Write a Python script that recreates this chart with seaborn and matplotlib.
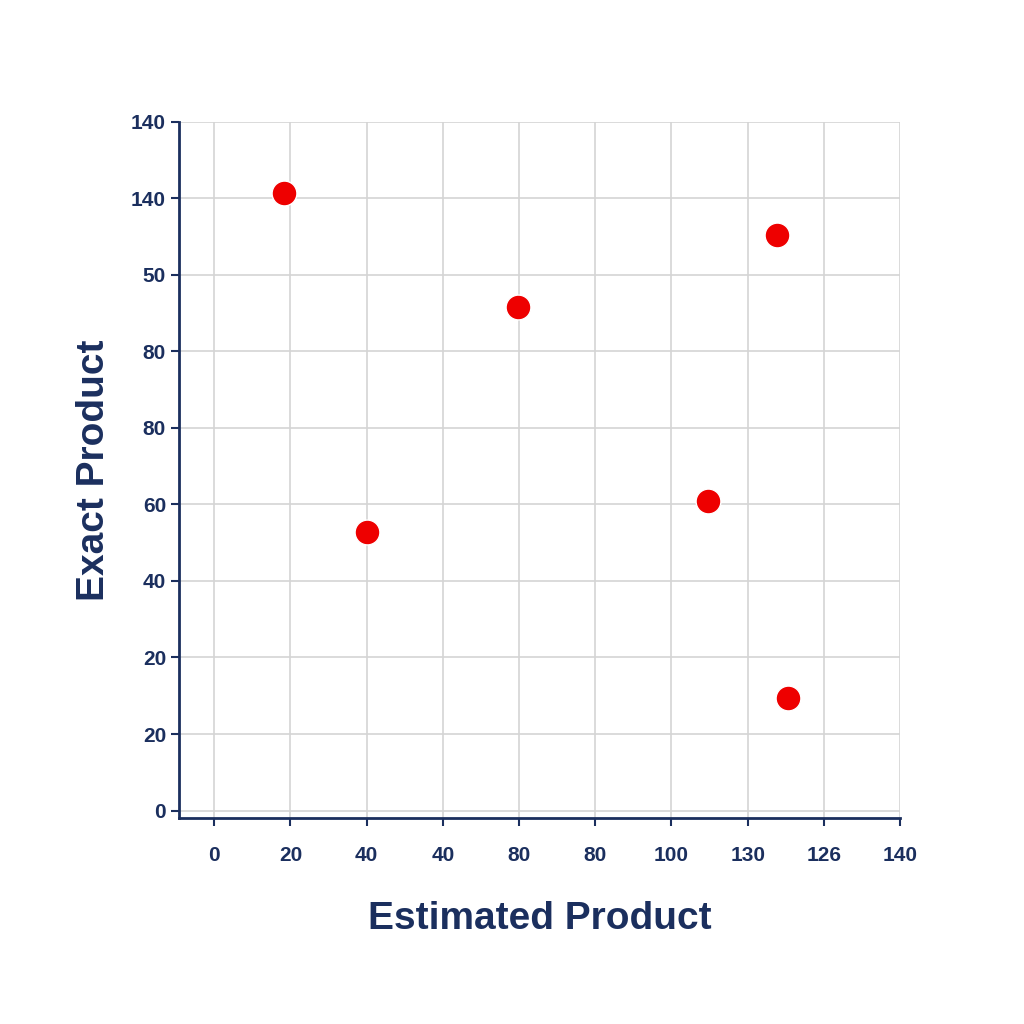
import matplotlib
matplotlib.use("Agg")
import matplotlib.pyplot as plt
import seaborn as sns
import pandas as pd

x_tick_labels = ["0", "20", "40", "40", "80", "80", "100", "130", "126", "140"]
y_tick_labels = ["0", "20", "20", "40", "60", "80", "80", "50", "140", "140"]
# point positions in tick-slot units
x_vals = [0.91, 2.0, 3.99, 6.48, 7.39, 7.53]
y_vals = [8.07, 3.64, 6.58, 4.05, 7.52, 1.47]

sns.set_style("white")
plt.rcParams['font.family'] = ['Liberation Sans', 'DejaVu Sans']
navy = "#1b2f5e"
fig = plt.figure(figsize=(10.24, 10.24), dpi=100)
ax = fig.add_axes([0.175, 0.201, 0.704, 0.68])
df = pd.DataFrame({"x": x_vals, "y": y_vals})
sns.scatterplot(data=df, x="x", y="y", ax=ax, color="#ee0000", s=320,
                edgecolor="white", linewidth=1, zorder=3)
ax.set_xlim(-0.46, 9)
ax.set_ylim(-0.1, 9)
ax.set_xticks(range(10))
ax.set_xticklabels(x_tick_labels)
ax.set_yticks(range(10))
ax.set_yticklabels(y_tick_labels)
ax.grid(True, color="#d4d4d4", linewidth=1.2)
for s in ["top", "right"]:
    ax.spines[s].set_visible(False)
for s in ["left", "bottom"]:
    ax.spines[s].set_color(navy)
    ax.spines[s].set_linewidth(2)
ax.tick_params(axis="both", colors=navy, labelsize=15, length=6, width=1.5,
               direction="out", bottom=True, left=True)
ax.tick_params(axis="x", pad=14)
for t in ax.get_xticklabels() + ax.get_yticklabels():
    t.set_color(navy)
    t.set_fontweight("bold")
ax.set_xlabel("Estimated Product", fontsize=28, fontweight="bold", color=navy, labelpad=26)
ax.set_ylabel("Exact Product", fontsize=28, fontweight="bold", color=navy, labelpad=14)
fig.savefig("out.png", dpi=100, facecolor="white")
